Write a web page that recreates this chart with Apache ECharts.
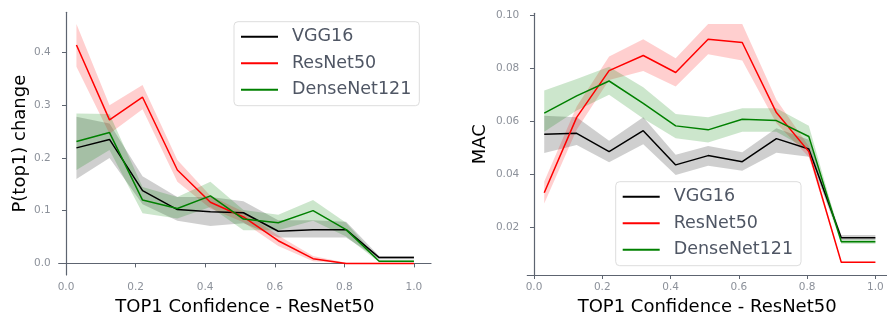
<!DOCTYPE html>
<html><head><meta charset="utf-8">
<script src="https://cdn.jsdelivr.net/npm/echarts@6/dist/echarts.min.js"></script>
<style>html,body{margin:0;padding:0;background:#fff}#c{width:887px;height:316px}</style>
</head><body><div id="c"></div>
<script>
const xs = [0.03, 0.125, 0.22, 0.32, 0.415, 0.51, 0.61, 0.71, 0.805, 0.9, 1.0];
const names = ['VGG16', 'ResNet50', 'DenseNet121'];
const xTicks = [0.0, 0.2, 0.4, 0.6, 0.8, 1.0];
const yTicksP = [0.0, 0.1, 0.2, 0.3, 0.4];
const yTicksM = [0.02, 0.04, 0.06, 0.08, 0.10];

// Left: P(top1) change
const vggP   = [0.219, 0.235, 0.138, 0.102, 0.098, 0.096, 0.061, 0.064, 0.064, 0.011, 0.011];
const vggPLo = [0.160, 0.200, 0.112, 0.081, 0.071, 0.076, 0.049, 0.049, 0.049, 0.008, 0.008];
const vggPHi = [0.278, 0.265, 0.165, 0.126, 0.126, 0.118, 0.082, 0.082, 0.079, 0.014, 0.014];
const resP   = [0.414, 0.272, 0.315, 0.177, 0.116, 0.088, 0.043, 0.009, 0.000, 0.000, 0.000];
const resPLo = [0.373, 0.246, 0.292, 0.155, 0.104, 0.078, 0.033, 0.004, 0.000, 0.000, 0.000];
const resPHi = [0.454, 0.300, 0.338, 0.196, 0.128, 0.098, 0.053, 0.014, 0.001, 0.001, 0.001];
const denP   = [0.231, 0.248, 0.120, 0.104, 0.128, 0.084, 0.077, 0.100, 0.064, 0.004, 0.004];
const denPLo = [0.177, 0.215, 0.095, 0.085, 0.107, 0.063, 0.063, 0.081, 0.051, 0.002, 0.002];
const denPHi = [0.284, 0.283, 0.145, 0.126, 0.155, 0.101, 0.092, 0.120, 0.077, 0.006, 0.006];

// Right: MAC
const vggM   = [0.0550, 0.0554, 0.0485, 0.0564, 0.0435, 0.0470, 0.0447, 0.0534, 0.0495, 0.0161, 0.0161];
const vggMLo = [0.0480, 0.0510, 0.0445, 0.0513, 0.0397, 0.0432, 0.0413, 0.0481, 0.0466, 0.0151, 0.0151];
const vggMHi = [0.0620, 0.0614, 0.0526, 0.0614, 0.0473, 0.0506, 0.0483, 0.0573, 0.0530, 0.0171, 0.0171];
const resM   = [0.0330, 0.0614, 0.0790, 0.0847, 0.0783, 0.0908, 0.0896, 0.0632, 0.0485, 0.0068, 0.0068];
const resMLo = [0.0290, 0.0567, 0.0755, 0.0789, 0.0730, 0.0852, 0.0828, 0.0592, 0.0465, 0.0066, 0.0066];
const resMHi = [0.0372, 0.0655, 0.0843, 0.0908, 0.0837, 0.0966, 0.0966, 0.0680, 0.0505, 0.0070, 0.0070];
const denM   = [0.0630, 0.0695, 0.0751, 0.0667, 0.0582, 0.0567, 0.0607, 0.0602, 0.0542, 0.0146, 0.0146];
const denMLo = [0.0560, 0.0640, 0.0699, 0.0610, 0.0535, 0.0519, 0.0560, 0.0560, 0.0491, 0.0138, 0.0138];
const denMHi = [0.0715, 0.0759, 0.0805, 0.0727, 0.0627, 0.0614, 0.0648, 0.0648, 0.0582, 0.0154, 0.0154];

const lineColors = ['#000000', '#ff0000', '#008000'];
const bandColors = ['rgba(0,0,0,0.19)', 'rgba(255,0,0,0.19)', 'rgba(0,128,0,0.2)'];
const FONT = 'DejaVu Sans';
const axisColor = '#5d6470';
const tickLabelColor = '#8c919a';

function band(name, idx, lo, hi, color) {
  const data = xs.map((x, i) => [x, lo[i], hi[i]]);
  return {
    type: 'custom', name: name + ' band', xAxisIndex: idx, yAxisIndex: idx,
    z: 1, silent: true,
    data: data,
    encode: { x: 0, y: [1, 2] },
    renderItem: function (params, api) {
      if (params.dataIndex !== 0) return null;
      const top = data.map(d => api.coord([d[0], d[2]]));
      const bot = data.map(d => api.coord([d[0], d[1]])).reverse();
      return { type: 'polygon', shape: { points: top.concat(bot) }, style: { fill: color } };
    }
  };
}
function line(name, idx, ys, color) {
  return {
    type: 'line', name: name, xAxisIndex: idx, yAxisIndex: idx, z: 3,
    data: xs.map((x, i) => [x, ys[i]]), symbol: 'none', color: color,
    lineStyle: { color: color, width: 1.5 }, animation: false
  };
}
function xAxis(idx, min, max) {
  return {
    type: 'value', gridIndex: idx, min: min, max: max,
    name: 'TOP1 Confidence - ResNet50', nameLocation: 'middle', nameGap: 23,
    nameTextStyle: { fontFamily: FONT, fontSize: 18, color: '#000' },
    axisLine: { show: true, lineStyle: { color: axisColor, width: 1.2 } },
    axisTick: { show: true, length: 4, lineStyle: { color: axisColor }, customValues: xTicks },
    axisLabel: { customValues: xTicks, margin: 7, fontFamily: FONT, fontSize: 10.5, color: tickLabelColor,
      formatter: v => v.toFixed(1) },
    splitLine: { show: false }
  };
}
function yAxis(idx, min, max, ticks, dec, name, gap) {
  return {
    type: 'value', gridIndex: idx, min: min, max: max,
    name: name, nameLocation: 'middle', nameGap: gap, nameRotate: 90,
    nameTextStyle: { fontFamily: FONT, fontSize: 18, color: '#000' },
    axisLine: { show: true, lineStyle: { color: axisColor, width: 1.2 } },
    axisTick: { show: true, length: 4, lineStyle: { color: axisColor }, customValues: ticks },
    axisLabel: { customValues: ticks, margin: 8, fontFamily: FONT, fontSize: 10.5, color: tickLabelColor,
      formatter: v => v.toFixed(dec) },
    splitLine: { show: false }
  };
}
function legend(left, top) {
  return {
    orient: 'vertical', left: left, top: top, data: names,
    icon: 'rect', itemWidth: 37, itemHeight: 2, itemGap: 6.5,
    padding: [5, 8, 6, 7],
    borderColor: '#dddddd', borderWidth: 1, borderRadius: 4,
    backgroundColor: 'rgba(255,255,255,0.8)',
    textStyle: { fontFamily: FONT, fontSize: 17.5, color: '#4f5664', lineHeight: 20, padding: [0, 0, 0, 9] },
    selectedMode: false
  };
}

const chart = echarts.init(document.getElementById('c'), null, { renderer: 'canvas' });
chart.setOption({
  animation: false,
  backgroundColor: '#ffffff',
  grid: [
    { left: 58.7, top: 12.3, width: 372.3, height: 262.7, outerBoundsMode: 'none', containLabel: false },
    { left: 527.3, top: 13.3, width: 359.7, height: 261.7, outerBoundsMode: 'none', containLabel: false }
  ],
  xAxis: [xAxis(0, -0.021, 1.049), xAxis(1, -0.0196, 1.034)],
  yAxis: [
    yAxis(0, -0.022, 0.476, yTicksP, 1, 'P(top1) change', 29),
    yAxis(1, 0.00203, 0.1006, yTicksM, 2, 'MAC', 38)
  ],
  legend: [legend(234, 21.7), legend(615.7, 181.7)],
  series: [
    band('VGG16', 0, vggPLo, vggPHi, bandColors[0]),
    band('ResNet50', 0, resPLo, resPHi, bandColors[1]),
    band('DenseNet121', 0, denPLo, denPHi, bandColors[2]),
    band('VGG16', 1, vggMLo, vggMHi, bandColors[0]),
    band('ResNet50', 1, resMLo, resMHi, bandColors[1]),
    band('DenseNet121', 1, denMLo, denMHi, bandColors[2]),
    line('VGG16', 0, vggP, lineColors[0]),
    line('ResNet50', 0, resP, lineColors[1]),
    line('DenseNet121', 0, denP, lineColors[2]),
    line('VGG16', 1, vggM, lineColors[0]),
    line('ResNet50', 1, resM, lineColors[1]),
    line('DenseNet121', 1, denM, lineColors[2])
  ]
});
</script></body></html>
